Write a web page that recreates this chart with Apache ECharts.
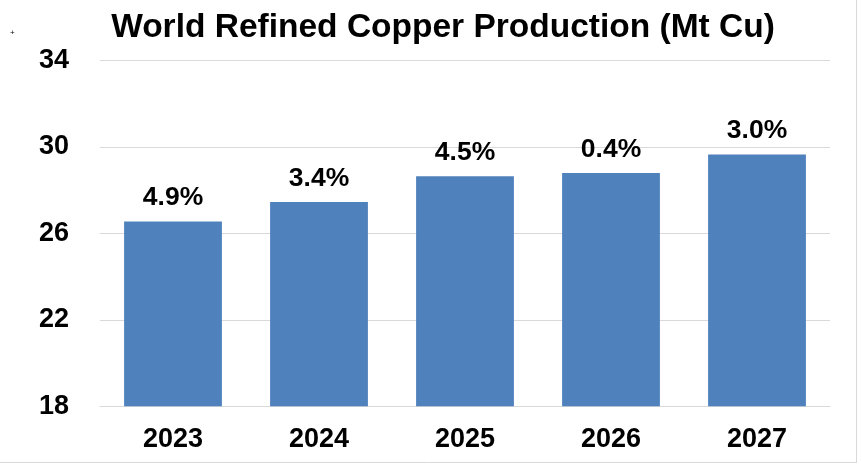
<!DOCTYPE html>
<html>
<head>
<meta charset="utf-8">
<script src="https://cdn.jsdelivr.net/npm/echarts@6/dist/echarts.min.js"></script>
<style>
html,body{margin:0;padding:0;background:#fff;}
#c{width:862px;height:466px;}
</style>
</head>
<body>
<div id="c"></div>
<script>
const categories = ['2023', '2024', '2025', '2026', '2027'];
const production = [26.55, 27.45, 28.65, 28.8, 29.65];
const growthLabels = ['4.9%', '3.4%', '4.5%', '0.4%', '3.0%'];
const yTicks = [18, 22, 26, 30, 34];

const chart = echarts.init(document.getElementById('c'), null, {renderer: 'canvas'});
const font = 'Liberation Sans, Arial, sans-serif';
chart.setOption({
  animation: false,
  backgroundColor: '#ffffff',
  title: {
    text: 'World Refined Copper Production (Mt Cu)',
    left: 438,
    textAlign: 'center',
    top: 6,
    textStyle: {fontFamily: font, fontSize: 33.5, fontWeight: 'bold', color: '#000'}
  },
  grid: {left: 100, right: 32, top: 60.5, bottom: 59.7, containLabel: false},
  xAxis: {
    type: 'category',
    data: categories,
    axisLine: {show: true, lineStyle: {color: '#d9d9d9', width: 1}},
    axisTick: {show: false},
    axisLabel: {fontFamily: font, fontSize: 27, fontWeight: 'bold', color: '#000', margin: 20}
  },
  yAxis: {
    type: 'value',
    min: yTicks[0],
    max: yTicks[yTicks.length - 1],
    interval: 4,
    axisLine: {show: false},
    axisTick: {show: false},
    splitLine: {lineStyle: {color: '#d9d9d9', width: 1}},
    axisLabel: {fontFamily: font, fontSize: 27, fontWeight: 'bold', color: '#000', margin: 31}
  },
  graphic: [
    {type: 'line', shape: {x1: 856.5, y1: 0, x2: 856.5, y2: 463}, style: {stroke: '#d9d9d9', lineWidth: 1}},
    {type: 'line', shape: {x1: 0, y1: 462.5, x2: 857, y2: 462.5}, style: {stroke: '#d9d9d9', lineWidth: 1}},
    {type: 'text', left: 10, top: 29, style: {text: '+', fontSize: 8, fill: '#000', fontFamily: font}}
  ],
  series: [{
    type: 'bar',
    data: production,
    barCategoryGap: '33%',
    itemStyle: {color: '#4F81BD'},
    label: {
      show: true,
      position: 'top',
      distance: 10,
      formatter: p => growthLabels[p.dataIndex],
      fontFamily: font, fontSize: 26.5, fontWeight: 'bold', color: '#000'
    }
  }]
});
</script>
</body>
</html>
